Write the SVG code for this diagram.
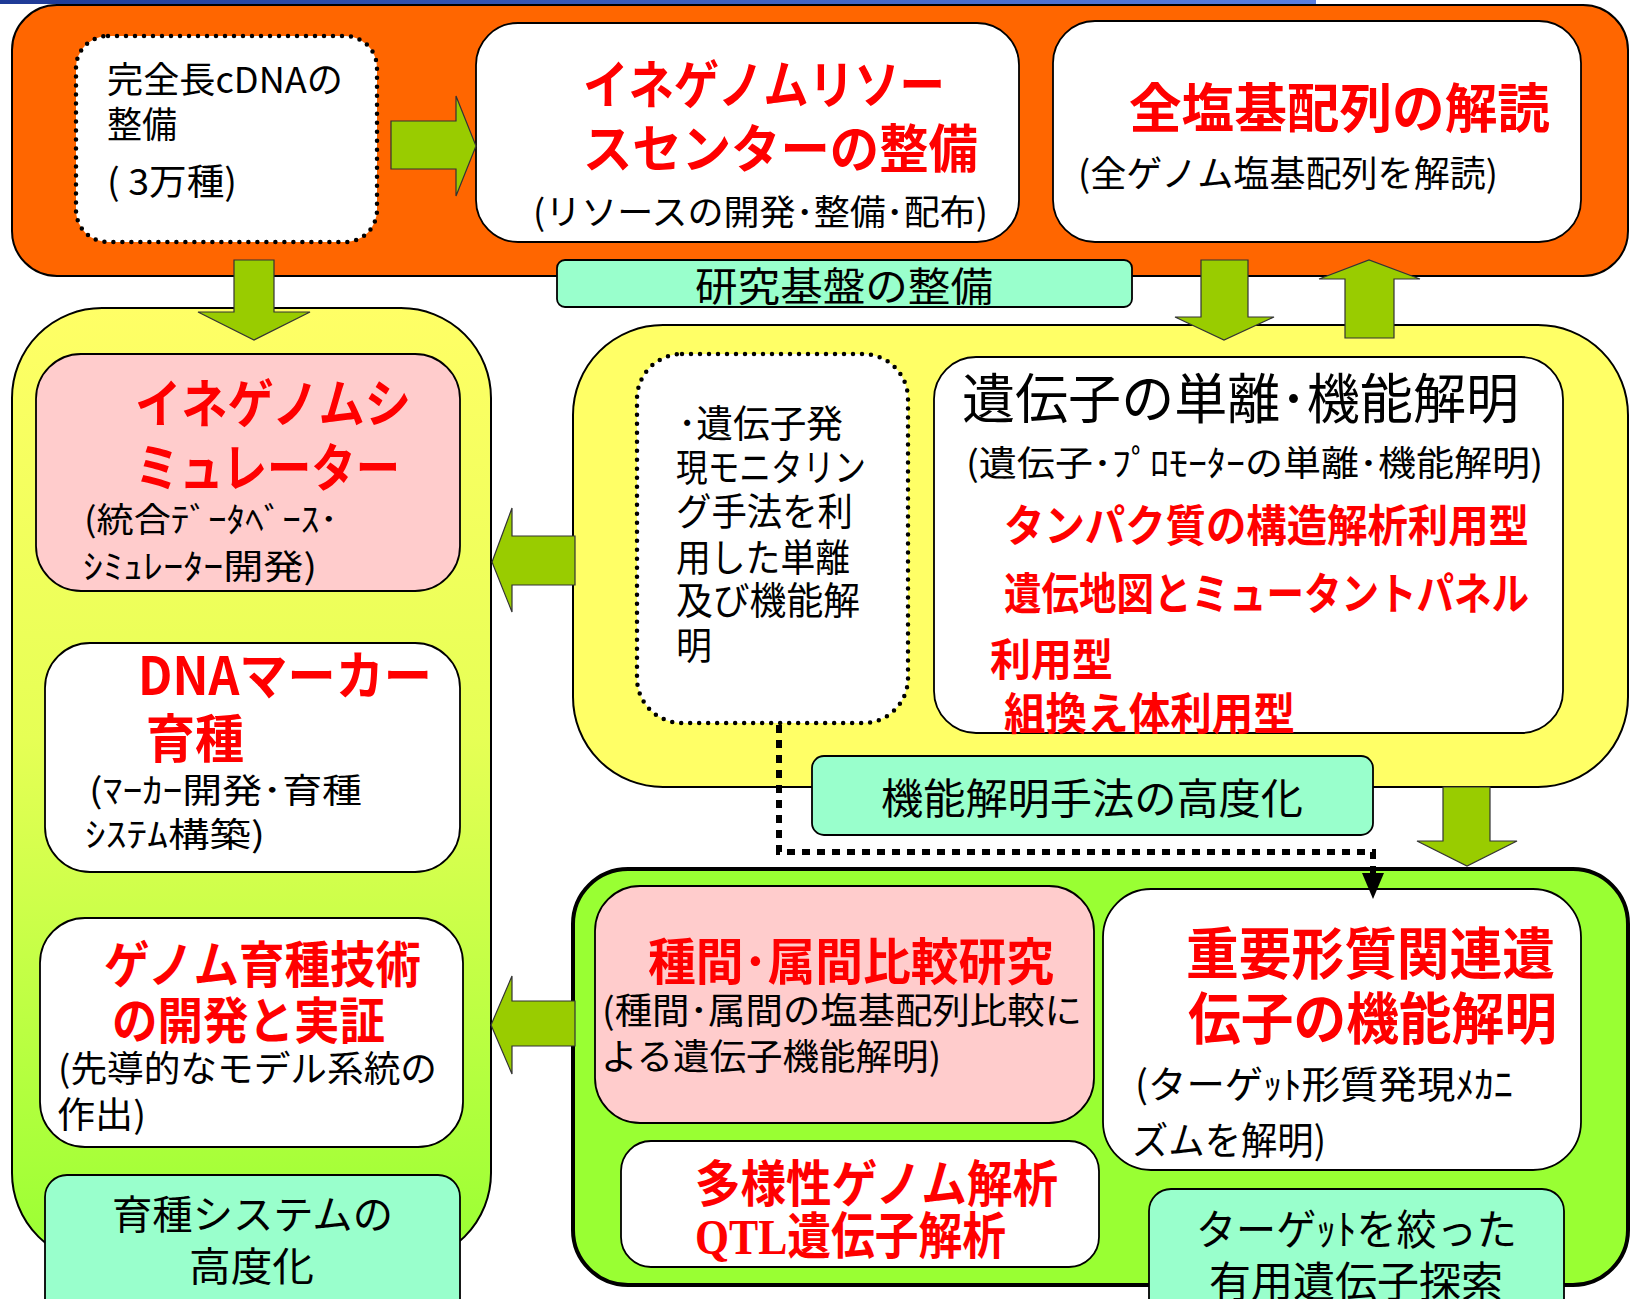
<svg xmlns="http://www.w3.org/2000/svg" width="1631" height="1299" viewBox="0 0 1631 1299">
<defs>
<linearGradient id="gBlue" x1="0" y1="0" x2="1" y2="0">
<stop offset="0" stop-color="#1E3A96"/><stop offset="1" stop-color="#5A7FE0"/>
</linearGradient>
<linearGradient id="gLeft" x1="0" y1="0" x2="0" y2="1">
<stop offset="0" stop-color="#FFFF66"/><stop offset="0.45" stop-color="#E6FF55"/><stop offset="1" stop-color="#99FF33"/>
</linearGradient>
<style>
.box{stroke:#000;stroke-width:1.8}
.wh{fill:#FFFFFF}
.pk{fill:#FFCCCC}
.tl{fill:#99FFCC;stroke:#000;stroke-width:1.8}
.dot{fill:#FFFFFF;stroke:#000;stroke-width:4.5;stroke-dasharray:0 9;stroke-linecap:round}
.arr{fill:#99CC00;stroke:#333;stroke-width:1.2}
.r{font-family:"Noto Sans CJK JP","Noto Sans",sans-serif;fill:#FF0000;font-weight:bold}
.k{font-family:"Noto Sans CJK JP","Noto Sans",sans-serif;fill:#000}
.sf{font-family:"Liberation Serif",serif}
</style>
</defs>

<rect x="0" y="0" width="1316" height="4" fill="url(#gBlue)"/>

<g id="research-base">
<rect x="12" y="5" width="1616" height="271" rx="45" fill="#FF6600" stroke="#000" stroke-width="2"/>
</g>

<g id="cdna">
<rect x="76" y="36" width="301" height="206" rx="32" class="dot"/>
<text class="k" x="107" y="93" font-size="36" textLength="236" lengthAdjust="spacingAndGlyphs">完全長cDNAの</text>
<text class="k" x="107" y="138" font-size="36" textLength="70" lengthAdjust="spacingAndGlyphs">整備</text>
<text class="k" x="107" y="195" font-size="36" textLength="130" lengthAdjust="spacingAndGlyphs">( 3万種)</text>
</g>

<g id="resource-center">
<rect x="476" y="23" width="543" height="219" rx="42" class="box wh"/>
<text class="r" x="583" y="104" font-size="52" textLength="362" lengthAdjust="spacingAndGlyphs">イネゲノムリソー</text>
<text class="r" x="583" y="168" font-size="52" textLength="395" lengthAdjust="spacingAndGlyphs">スセンターの整備</text>
<text class="k" x="533" y="225" font-size="35" textLength="455" lengthAdjust="spacingAndGlyphs">(リソースの開発･整備･配布)</text>
</g>

<g id="full-sequence">
<rect x="1053" y="21" width="528" height="221" rx="42" class="box wh"/>
<text class="r" x="1129" y="128" font-size="53" textLength="421" lengthAdjust="spacingAndGlyphs">全塩基配列の解読</text>
<text class="k" x="1078" y="187" font-size="36" textLength="420" lengthAdjust="spacingAndGlyphs">(全ゲノム塩基配列を解読)</text>
</g>

<g id="label-research-base">
<rect x="557" y="260" width="575" height="47" rx="8" class="tl"/>
<text class="k" x="695" y="301" font-size="40" textLength="298" lengthAdjust="spacingAndGlyphs">研究基盤の整備</text>
</g>

<g id="breeding-area">
<rect x="12" y="308" width="479" height="955" rx="90" fill="url(#gLeft)" stroke="#000" stroke-width="2"/>
</g>

<g id="simulator">
<rect x="36" y="354" width="424" height="237" rx="45" class="box pk"/>
<text class="r" x="135" y="423" font-size="52" textLength="276" lengthAdjust="spacingAndGlyphs">イネゲノムシ</text>
<text class="r" x="135" y="487" font-size="52" textLength="265" lengthAdjust="spacingAndGlyphs">ミュレーター</text>
<text class="k" x="84" y="532" font-size="34" textLength="254" lengthAdjust="spacingAndGlyphs">(統合ﾃﾞｰﾀﾍﾞｰｽ･</text>
<text class="k" x="83" y="579" font-size="34" textLength="234" lengthAdjust="spacingAndGlyphs">ｼﾐｭﾚｰﾀｰ開発)</text>
</g>

<g id="dna-marker">
<rect x="45" y="643" width="415" height="229" rx="45" class="box wh"/>
<text class="r" x="138" y="695" font-size="52" textLength="294" lengthAdjust="spacingAndGlyphs">DNAマーカー</text>
<text class="r" x="146" y="758" font-size="52" textLength="98" lengthAdjust="spacingAndGlyphs">育種</text>
<text class="k" x="89" y="803" font-size="34" textLength="273" lengthAdjust="spacingAndGlyphs">(ﾏｰｶｰ開発･育種</text>
<text class="k" x="85" y="847" font-size="34" textLength="180" lengthAdjust="spacingAndGlyphs">ｼｽﾃﾑ構築)</text>
</g>

<g id="genome-breeding">
<rect x="40" y="918" width="423" height="229" rx="45" class="box wh"/>
<text class="r" x="104" y="983" font-size="50" textLength="317" lengthAdjust="spacingAndGlyphs">ゲノム育種技術</text>
<text class="r" x="112" y="1039" font-size="50" textLength="273" lengthAdjust="spacingAndGlyphs">の開発と実証</text>
<text class="k" x="58" y="1082" font-size="36" textLength="379" lengthAdjust="spacingAndGlyphs">(先導的なモデル系統の</text>
<text class="k" x="57" y="1128" font-size="36" textLength="89" lengthAdjust="spacingAndGlyphs">作出)</text>
</g>

<g id="label-breeding-system">
<rect x="45" y="1175" width="415" height="150" rx="22" class="tl"/>
<text class="k" x="112" y="1229" font-size="40" textLength="281" lengthAdjust="spacingAndGlyphs">育種システムの</text>
<text class="k" x="189" y="1281" font-size="40" textLength="125" lengthAdjust="spacingAndGlyphs">高度化</text>
</g>

<g id="function-area">
<rect x="573" y="325" width="1055" height="462" rx="90" fill="#FFFF66" stroke="#000" stroke-width="2"/>
</g>

<g id="expression-monitoring">
<rect x="637" y="354" width="271" height="369" rx="45" class="dot"/>
<text class="k" x="678" y="437" font-size="38" textLength="165" lengthAdjust="spacingAndGlyphs">･遺伝子発</text>
<text class="k" x="676" y="481" font-size="38" textLength="190" lengthAdjust="spacingAndGlyphs">現モニタリン</text>
<text class="k" x="676" y="525" font-size="38" textLength="177" lengthAdjust="spacingAndGlyphs">グ手法を利</text>
<text class="k" x="676" y="571" font-size="38" textLength="174" lengthAdjust="spacingAndGlyphs">用した単離</text>
<text class="k" x="676" y="614" font-size="38" textLength="184" lengthAdjust="spacingAndGlyphs">及び機能解</text>
<text class="k" x="676" y="659" font-size="38" textLength="36" lengthAdjust="spacingAndGlyphs">明</text>
</g>

<g id="gene-isolation">
<rect x="934" y="357" width="629" height="376" rx="42" class="box wh"/>
<text class="k" x="962" y="419" font-size="54" textLength="557" lengthAdjust="spacingAndGlyphs">遺伝子の単離･機能解明</text>
<text class="k" x="966" y="476" font-size="35" textLength="577" lengthAdjust="spacingAndGlyphs">(遺伝子･ﾌﾟﾛﾓｰﾀｰの単離･機能解明)</text>
<text class="r" x="1004" y="542" font-size="44" textLength="525" lengthAdjust="spacingAndGlyphs">タンパク質の構造解析利用型</text>
<text class="r" x="1004" y="610" font-size="44" textLength="525" lengthAdjust="spacingAndGlyphs">遺伝地図とミュータントパネル</text>
<text class="r" x="990" y="676" font-size="44" textLength="123" lengthAdjust="spacingAndGlyphs">利用型</text>
<text class="r" x="1004" y="730" font-size="44" textLength="291" lengthAdjust="spacingAndGlyphs">組換え体利用型</text>
</g>

<g id="label-function-methods">
<rect x="812" y="756" width="561" height="79" rx="12" class="tl"/>
<text class="k" x="881" y="814" font-size="42" textLength="422" lengthAdjust="spacingAndGlyphs">機能解明手法の高度化</text>
</g>

<g id="target-area">
<rect x="573" y="869" width="1055" height="416" rx="55" fill="#99FF33" stroke="#000" stroke-width="4"/>
</g>

<g id="comparative">
<rect x="595" y="886" width="499" height="237" rx="45" class="box pk"/>
<text class="r" x="648" y="980" font-size="50" textLength="406" lengthAdjust="spacingAndGlyphs">種間･属間比較研究</text>
<text class="k" x="602" y="1024" font-size="36" textLength="480" lengthAdjust="spacingAndGlyphs">(種間･属間の塩基配列比較に</text>
<text class="k" x="601" y="1070" font-size="36" textLength="340" lengthAdjust="spacingAndGlyphs">よる遺伝子機能解明)</text>
</g>

<g id="important-traits">
<rect x="1103" y="889" width="478" height="281" rx="48" class="box wh"/>
<text class="r" x="1186" y="974" font-size="56" textLength="369" lengthAdjust="spacingAndGlyphs">重要形質関連遺</text>
<text class="r" x="1188" y="1039" font-size="56" textLength="369" lengthAdjust="spacingAndGlyphs">伝子の機能解明</text>
<text class="k" x="1135" y="1098" font-size="38" textLength="378" lengthAdjust="spacingAndGlyphs">(ターゲｯﾄ形質発現ﾒｶﾆ</text>
<text class="k" x="1132" y="1154" font-size="38" textLength="194" lengthAdjust="spacingAndGlyphs">ズムを解明)</text>
</g>

<g id="diversity">
<rect x="621" y="1141" width="478" height="126" rx="30" class="box wh"/>
<text class="r" x="695" y="1202" font-size="50" textLength="363" lengthAdjust="spacingAndGlyphs">多様性ゲノム解析</text>
<text class="r" x="695" y="1254" font-size="50" textLength="311" lengthAdjust="spacingAndGlyphs"><tspan class="sf">QTL</tspan>遺伝子解析</text>
</g>

<g id="label-target-search">
<rect x="1149" y="1189" width="415" height="140" rx="22" class="tl"/>
<text class="k" x="1196" y="1245" font-size="42" textLength="321" lengthAdjust="spacingAndGlyphs">ターゲｯﾄを絞った</text>
<text class="k" x="1209" y="1297" font-size="42" textLength="294" lengthAdjust="spacingAndGlyphs">有用遺伝子探索</text>
</g>

<g id="connectors">
<polygon class="arr" points="391,121 456,121 456,96 476,146 456,196 456,169 391,169"/>
<polygon class="arr" points="234,260 274,260 274,312 310,312 254,340 198,312 234,312"/>
<polygon class="arr" points="1201,260 1248,260 1248,317 1274,317 1224,340 1175,317 1201,317"/>
<polygon class="arr" points="1345,338 1394,338 1394,279 1420,279 1369,260 1319,279 1345,279"/>
<polygon class="arr" points="575,536 512,536 512,508 492,562 512,612 512,585 575,585"/>
<polygon class="arr" points="575,1001 512,1001 512,976 491,1025 512,1074 512,1046 575,1046"/>
<polygon class="arr" points="1443,787 1490,787 1490,841 1517,841 1467,866 1417,841 1443,841"/>
<path d="M779,725 V852 H1373 V874" fill="none" stroke="#000" stroke-width="6" stroke-dasharray="8 7"/>
<polygon points="1362,873 1384,873 1373,899" fill="#000"/>
</g>
</svg>
